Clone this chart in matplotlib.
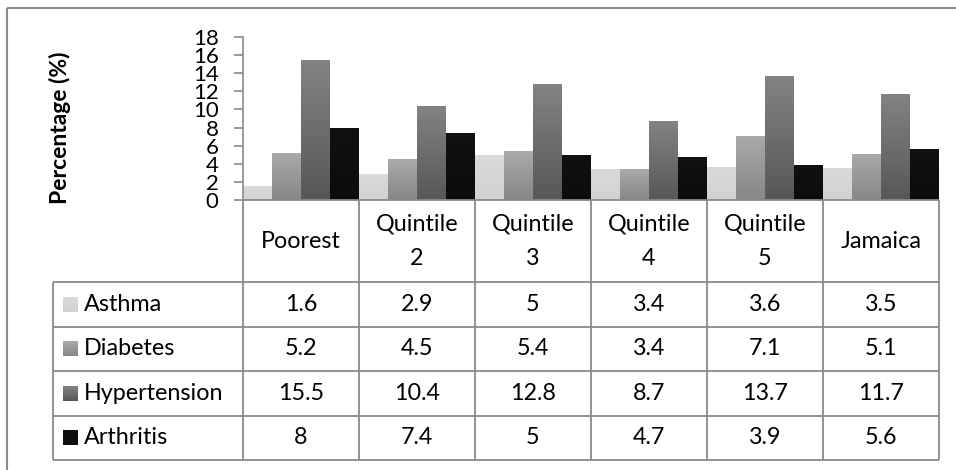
import numpy as np
import matplotlib.pyplot as plt
from matplotlib.colors import LinearSegmentedColormap

plt.rcParams['font.family'] = ['Lato', 'DejaVu Sans']

groups = ['Poorest', 'Quintile\n2', 'Quintile\n3', 'Quintile\n4', 'Quintile\n5', 'Jamaica']
series = ['Asthma', 'Diabetes', 'Hypertension', 'Arthritis']
asthma = [1.6, 2.9, 5, 3.4, 3.6, 3.5]
diabetes = [5.2, 4.5, 5.4, 3.4, 7.1, 5.1]
hypertension = [15.5, 10.4, 12.8, 8.7, 13.7, 11.7]
arthritis = [8, 7.4, 5, 4.7, 3.9, 5.6]
values = [asthma, diabetes, hypertension, arthritis]
yticks = list(range(0, 19, 2))

# (top, bottom) shades for each series
shades = [('#dadada', '#d2d2d2'), ('#aaaaaa', '#878787'),
          ('#838383', '#575757'), ('#111111', '#0c0c0c')]

W, H = 956, 470
grid = '#8a8a8a'
fs = 16.8

fig = plt.figure(figsize=(W / 100, H / 100), dpi=100)

def fx(x):
    return x / W

def fy(y):
    return 1 - y / H

# table geometry (pixels)
cols = [243 + 116 * i for i in range(7)]
rows = [200, 282, 326.5, 371, 415.5, 460]
leg_left = 53

ax = fig.add_axes([fx(cols[0]), fy(200), fx(cols[-1] - cols[0]), (200 - 37) / H])

bw = 0.25
x = np.arange(len(groups))
for i, (vals, (top, bot)) in enumerate(zip(values, shades)):
    pos = x - 0.5 + (i + 0.5) * bw
    bars = ax.bar(pos, vals, width=bw, facecolor='none', edgecolor='none', zorder=2)
    cmap = LinearSegmentedColormap.from_list(series[i], [bot, top])
    grad = np.linspace(0, 1, 256).reshape(-1, 1)
    for b in bars:
        im = ax.imshow(grad, cmap=cmap, origin='lower', aspect='auto',
                       extent=[b.get_x(), b.get_x() + b.get_width(), 0, b.get_height()],
                       zorder=2)
        im.set_clip_path(b)
ax.set_xlim(-0.5, len(groups) - 0.5)
ax.set_ylim(0, 18)

ax.set_yticks(yticks)
ax.tick_params(axis='y', length=6.5, width=1.2, color=grid, pad=11, labelsize=16)
ax.set_xticks([])
for s in ['top', 'right', 'bottom']:
    ax.spines[s].set_visible(False)
ax.spines['left'].set_color(grid)
ax.spines['left'].set_linewidth(1.2)
ax.patch.set_visible(False)

fig.text(fx(60), fy(128), 'Percentage (%)', rotation=90, ha='center', va='center',
         fontsize=16.5, fontweight='bold')

# data table underneath the bars
ov = fig.add_axes([0, 0, 1, 1])
ov.axis('off')
ov.patch.set_visible(False)

lw = 1.3
ov.hlines(rows[0], cols[0], cols[-1], color=grid, lw=lw)
ov.hlines(rows[1:], leg_left, cols[-1], color=grid, lw=lw)
ov.vlines(cols, rows[0], rows[-1], color=grid, lw=lw)
ov.vlines(leg_left, rows[1], rows[-1], color=grid, lw=lw)

# outer frame
ov.hlines(7.5, 7.5, W, color=grid, lw=1.5)
ov.vlines(7.5, 7.5, H, color=grid, lw=1.5)

for j, g in enumerate(groups):
    cx = (cols[j] + cols[j + 1]) / 2
    ov.text(cx, (rows[0] + rows[1]) / 2, g, ha='center', va='center',
            fontsize=fs, linespacing=1.8)
    for i, vals in enumerate(values):
        cy = (rows[i + 1] + rows[i + 2]) / 2
        ov.text(cx, cy, f'{vals[j]:g}', ha='center', va='center', fontsize=fs)

for i, name in enumerate(series):
    cy = (rows[i + 1] + rows[i + 2]) / 2
    top, bot = shades[i]
    cmap = LinearSegmentedColormap.from_list(name + '_key', [top, bot])
    grad = np.linspace(0, 1, 64).reshape(-1, 1)
    ov.imshow(grad, cmap=cmap, aspect='auto', extent=[63, 78, cy + 7.5, cy - 7.5])
    ov.text(84, cy, name, ha='left', va='center', fontsize=fs)

ov.set_xlim(0, W)
ov.set_ylim(H, 0)

fig.savefig('out.png', dpi=100)
